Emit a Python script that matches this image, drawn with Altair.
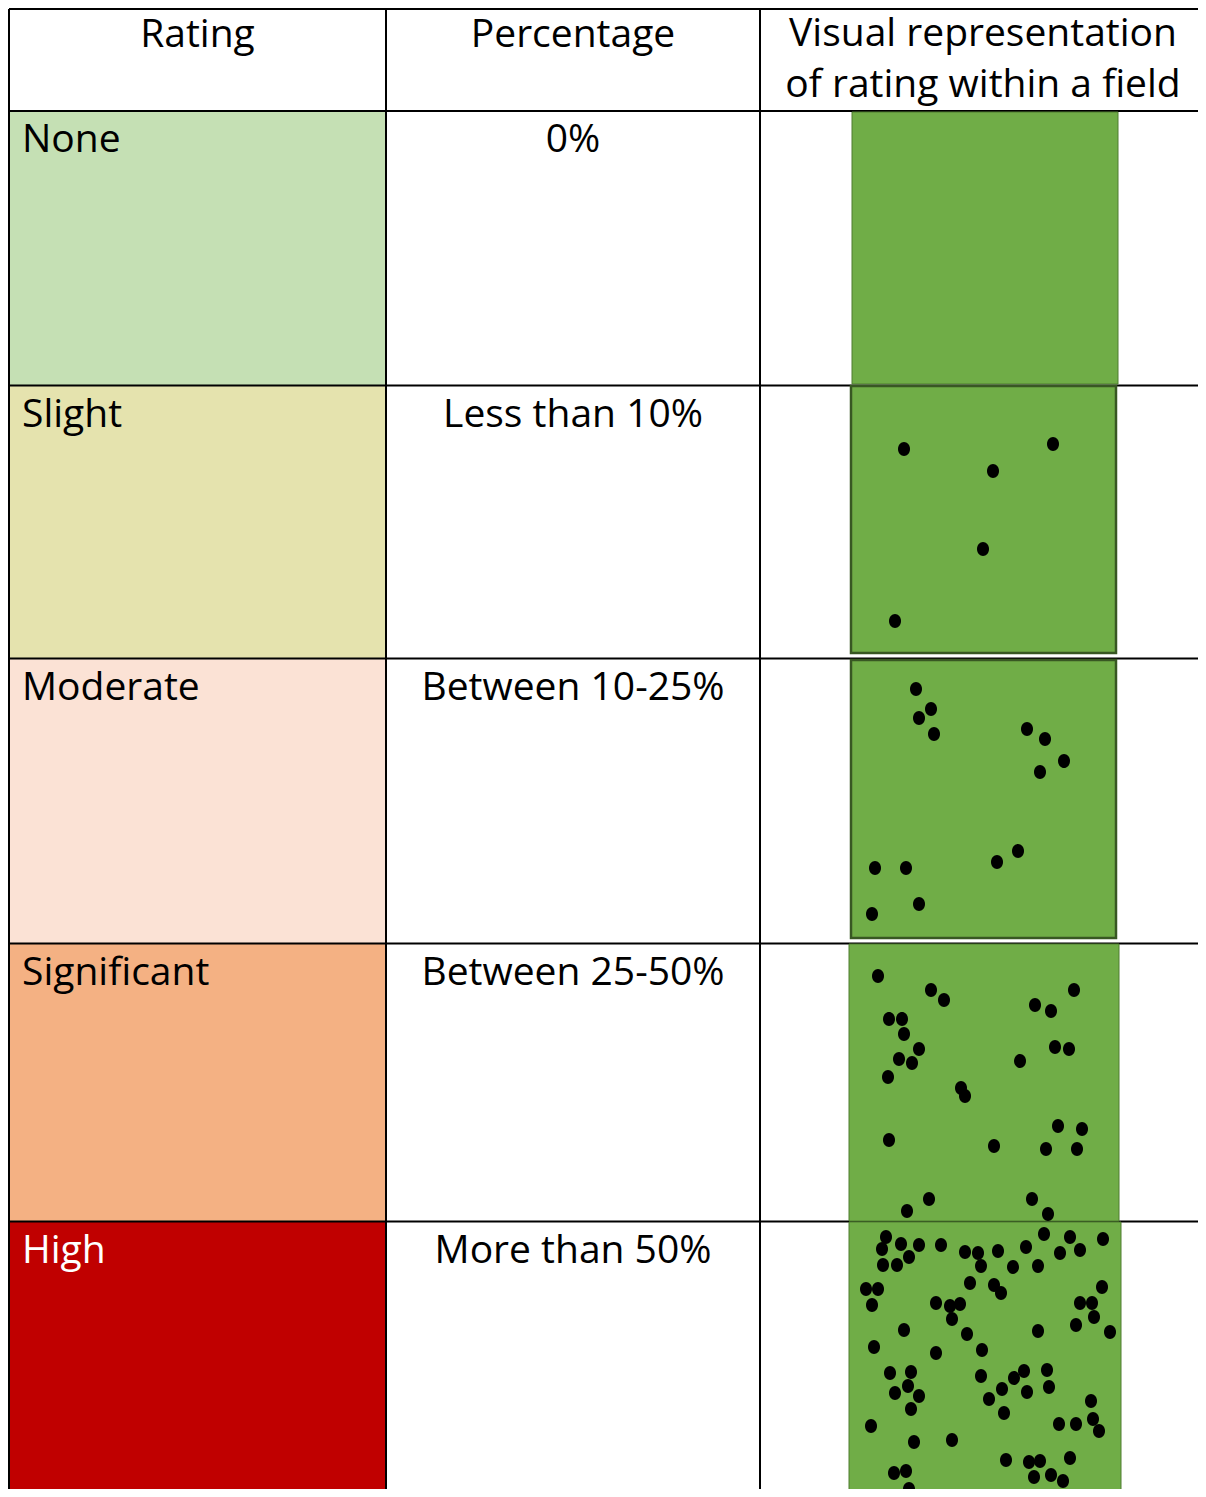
import altair as alt
import pandas as pd

# ---------------- data ----------------
header_labels = ["Rating", "Percentage", "Visual representation\nof rating within a field"]
ratings = ["None", "Slight", "Moderate", "Significant", "High"]
percentages = ["0%", "Less than 10%", "Between 10-25%", "Between 25-50%", "More than 50%"]
rating_colors = ["#C5E0B4", "#E5E3AE", "#FBE2D5", "#F4B183", "#C00000"]
rating_text_colors = ["#000000", "#000000", "#000000", "#000000", "#FFFFFF"]

# damage spots in each field, field-local units (from field's top-left corner)
none_x, none_y = [], []
slight_x = [53, 202, 142, 132, 44]
slight_y = [63, 58, 85, 163, 235]
moderate_x = [65, 80, 68, 83, 176, 194, 213, 189, 167, 146, 24, 55, 68, 21]
moderate_y = [29, 49, 58, 74, 69, 79, 101, 112, 191, 202, 208, 208, 244, 254]
significant_x = [29, 82, 95, 40, 53, 55, 70, 50, 63, 39, 186, 202, 225, 206, 220, 171,
                 112, 116, 40, 145, 209, 233, 197, 228, 80, 58, 183, 199]
significant_y = [32, 46, 56, 75, 75, 90, 105, 115, 119, 133, 61, 67, 46, 103, 105, 117,
                 144, 152, 196, 202, 182, 185, 205, 205, 255, 267, 255, 270]
high_x = [37, 33, 52, 70, 60, 34, 48, 92, 116, 129, 132, 149, 164, 177, 189, 195, 211, 221,
          231, 254, 121, 145, 152, 253, 17, 29, 23, 87, 101, 111, 103, 231, 243, 245, 227,
          261, 55, 118, 189, 25, 87, 133,
          41, 62, 59, 46, 70, 62, 132, 165, 175, 153, 140, 178, 198, 200, 155, 242, 244,
          210, 227, 250, 22, 65, 103, 157, 180, 191, 221, 185, 202, 214, 45, 57, 60]
high_y = [15, 27, 22, 23, 35, 43, 43, 23, 30, 31, 44, 29, 45, 25, 44, 12, 31, 15,
          28, 17, 61, 63, 71, 65, 67, 67, 83, 81, 84, 82, 97, 81, 81, 95, 103,
          110, 108, 112, 109, 125, 131, 128,
          151, 150, 164, 171, 174, 187, 154, 156, 149, 167, 177, 170, 148, 165, 191, 179, 197,
          202, 202, 209, 204, 220, 218, 238, 240, 239, 236, 255, 253, 259, 251, 249, 267]
spots_x = [none_x, slight_x, moderate_x, significant_x, high_x]
spots_y = [none_y, slight_y, moderate_y, significant_y, high_y]

# ---------------- layout (page pixels) ----------------
W, H = 1190, 1481
X0, Y0 = 8, 8
col_edges = [9, 386, 760, 1206]
row_edges = [9, 111, 385.5, 658.5, 943.5, 1221.5, 1497]
field_boxes = [(852, 1118, 112, 384), (851, 1116, 386, 653), (851, 1116, 660, 938),
               (849, 1119, 944, 1221), (849, 1121, 1222, 1497)]
field_strokes = ["#4E7D31", "#385723", "#385723", "#4E7D31", "#4E7D31"]
field_stroke_w = [1, 2.5, 2.5, 1, 1]
FONT = "Open Sans"
FS = 39

xs = alt.Scale(domain=[X0, X0 + W], nice=False, zero=False)
ys = alt.Scale(domain=[Y0, Y0 + H], nice=False, zero=False, reverse=True)

# row fills in first column
fill_df = pd.DataFrame({
    "x": col_edges[0], "x2": col_edges[1],
    "y": row_edges[1:-1], "y2": row_edges[2:],
    "c": rating_colors,
})
fills = alt.Chart(fill_df).mark_rect().encode(
    x=alt.X("x:Q", scale=xs, axis=None), x2="x2:Q",
    y=alt.Y("y:Q", scale=ys, axis=None), y2="y2:Q",
    color=alt.Color("c:N", scale=None),
)

# grid lines
h_df = pd.DataFrame({"x": col_edges[0], "x2": col_edges[-1], "y": row_edges[:-1]})
hlines = alt.Chart(h_df).mark_rule(color="black", strokeWidth=2).encode(
    x=alt.X("x:Q", scale=xs, axis=None), x2="x2:Q",
    y=alt.Y("y:Q", scale=ys, axis=None),
)
v_df = pd.DataFrame({"x": col_edges[:-1], "y": row_edges[0], "y2": row_edges[-1]})
vlines = alt.Chart(v_df).mark_rule(color="black", strokeWidth=2).encode(
    x=alt.X("x:Q", scale=xs, axis=None),
    y=alt.Y("y:Q", scale=ys, axis=None), y2="y2:Q",
)

# fields
f_df = pd.DataFrame({
    "x": [b[0] for b in field_boxes], "x2": [b[1] for b in field_boxes],
    "y": [b[2] for b in field_boxes], "y2": [b[3] for b in field_boxes],
    "s": field_strokes, "sw": field_stroke_w,
})
fields = alt.Chart(f_df).mark_rect(color="#70AD47").encode(
    x=alt.X("x:Q", scale=xs, axis=None), x2="x2:Q",
    y=alt.Y("y:Q", scale=ys, axis=None), y2="y2:Q",
    stroke=alt.Stroke("s:N", scale=None),
    strokeWidth=alt.StrokeWidth("sw:Q", scale=None),
)

# spots
rows = []
for i, (lx, ly) in enumerate(zip(spots_x, spots_y)):
    bx, _, by, _ = field_boxes[i]
    for a, b in zip(lx, ly):
        rows.append({"x": bx + a, "y": by + b, "rating": ratings[i]})
dots_df = pd.DataFrame(rows)
ellipse = "M -0.857 0 A 0.857 1 0 1 0 0.857 0 A 0.857 1 0 1 0 -0.857 0 Z"
dots = alt.Chart(dots_df).mark_point(
    shape=ellipse, filled=True, color="black", opacity=1, size=196, strokeWidth=0
).encode(
    x=alt.X("x:Q", scale=xs, axis=None),
    y=alt.Y("y:Q", scale=ys, axis=None),
)

# texts
hdr_df = pd.DataFrame({
    "x": [(col_edges[i] + col_edges[i + 1]) / 2 for i in range(3)],
    "y": [47, 47, 46],
    "t": header_labels,
})
hdr = alt.Chart(hdr_df).mark_text(
    align="center", baseline="alphabetic", font=FONT, fontSize=FS, lineBreak="\n",
    lineHeight=51, color="black"
).encode(
    x=alt.X("x:Q", scale=xs, axis=None), y=alt.Y("y:Q", scale=ys, axis=None), text="t:N"
)

lab_df = pd.DataFrame({
    "x": 22, "y": [r + 41 for r in row_edges[1:-1]],
    "t": ratings, "c": rating_text_colors,
})
labs = alt.Chart(lab_df).mark_text(
    align="left", baseline="alphabetic", font=FONT, fontSize=FS
).encode(
    x=alt.X("x:Q", scale=xs, axis=None), y=alt.Y("y:Q", scale=ys, axis=None), text="t:N",
    color=alt.Color("c:N", scale=None),
)

pct_df = pd.DataFrame({
    "x": (col_edges[1] + col_edges[2]) / 2, "y": [r + 41 for r in row_edges[1:-1]],
    "t": percentages,
})
pcts = alt.Chart(pct_df).mark_text(
    align="center", baseline="alphabetic", font=FONT, fontSize=FS, color="black"
).encode(
    x=alt.X("x:Q", scale=xs, axis=None), y=alt.Y("y:Q", scale=ys, axis=None), text="t:N"
)

chart = alt.layer(fills, hlines, vlines, fields, dots, hdr, labs, pcts).properties(
    width=W, height=H, padding=0, autosize=alt.AutoSizeParams(type="none"),
    background="white",
).configure_view(strokeWidth=0)

chart.save("out.html", embed_options={"renderer": "svg", "actions": False})
